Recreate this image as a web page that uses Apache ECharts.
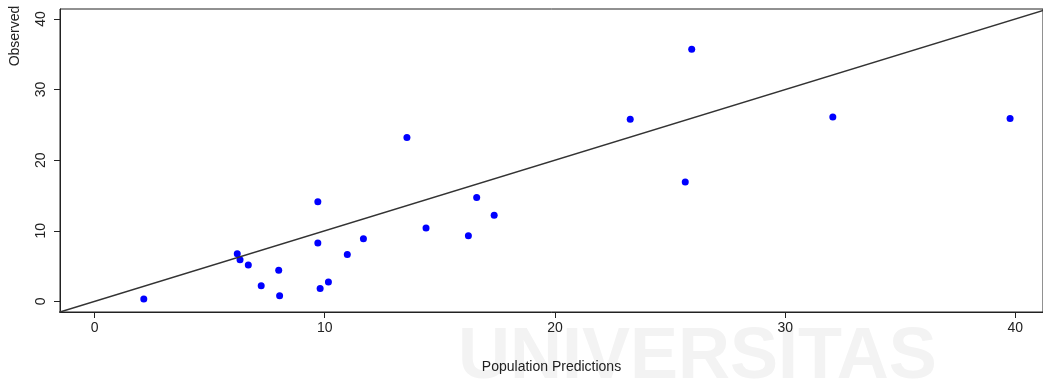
<!DOCTYPE html>
<html>
<head>
<meta charset="utf-8">
<script src="https://cdn.jsdelivr.net/npm/echarts@6/dist/echarts.min.js"></script>
<style>
html,body{margin:0;padding:0;background:#fff;}
#c{width:1043px;height:382px;}
</style>
</head>
<body>
<div id="c"></div>
<script>
// Population predictions (x) vs observed (y)
const predicted = [2.14, 6.2, 6.32, 6.68, 7.24, 8.0, 8.04, 9.7, 9.7, 9.8, 10.16, 10.98, 11.68, 13.57, 14.4, 16.24, 16.6, 17.36, 23.27, 25.66, 25.94, 32.07, 39.77];
const observed  = [0.34, 6.75, 5.9, 5.15, 2.2, 4.4, 0.8, 14.1, 8.26, 1.84, 2.74, 6.65, 8.87, 23.2, 10.4, 9.3, 14.7, 12.2, 25.8, 16.9, 35.7, 26.1, 25.9];
const xTicks = [0, 10, 20, 30, 40];
const yTicks = [0, 10, 20, 30, 40];
const identityLine = [-2, 42];

const chart = echarts.init(document.getElementById('c'), null, {renderer: 'canvas'});
const font = 'Liberation Sans, Arial, sans-serif';
chart.setOption({
  animation: false,
  backgroundColor: '#fff',
  graphic: [
    {
      type: 'text', z: -10, left: 458, top: 322, silent: true,
      style: {text: 'UNIVERSITAS', fill: '#f3f3f3', font: 'bold 72px ' + font}
    },
    {
      type: 'text', x: 15, y: 36, rotation: Math.PI / 2,
      style: {text: 'Observed', fill: '#222', font: '14px ' + font, align: 'center', verticalAlign: 'middle'}
    }
  ],
  grid: {left: 60, right: 0, top: 9, bottom: 70, show: true, borderColor: '#222', borderWidth: 1, backgroundColor: 'transparent'},
  xAxis: {
    type: 'value', min: -1.5, max: 41.2,
    name: 'Population Predictions', nameLocation: 'middle', nameGap: 48,
    nameTextStyle: {color: '#222', fontSize: 14, fontFamily: font},
    axisLine: {show: true, onZero: false, lineStyle: {color: '#222', width: 1}},
    axisTick: {show: true, length: 6, lineStyle: {color: '#222'}, customValues: xTicks},
    axisLabel: {color: '#222', fontSize: 14, fontFamily: font, margin: 9, customValues: xTicks, formatter: v => String(v)},
    splitLine: {show: false}
  },
  yAxis: {
    type: 'value', min: -1.5, max: 41.4,
    axisLine: {show: true, onZero: false, lineStyle: {color: '#222', width: 1}},
    axisTick: {show: true, length: 6, lineStyle: {color: '#222'}, customValues: yTicks},
    axisLabel: {color: '#222', fontSize: 14, fontFamily: font, rotate: 90, margin: 12, customValues: yTicks, formatter: v => String(v)},
    splitLine: {show: false}
  },
  series: [
    {
      type: 'line', data: identityLine.map(v => [v, v]), symbol: 'none', clip: true,
      lineStyle: {color: '#333', width: 1.5}, silent: true
    },
    {
      type: 'scatter', data: predicted.map((x, i) => [x, observed[i]]),
      symbol: 'circle', symbolSize: 7, itemStyle: {color: '#0000ff', opacity: 1}
    }
  ]
});
</script>
</body>
</html>
